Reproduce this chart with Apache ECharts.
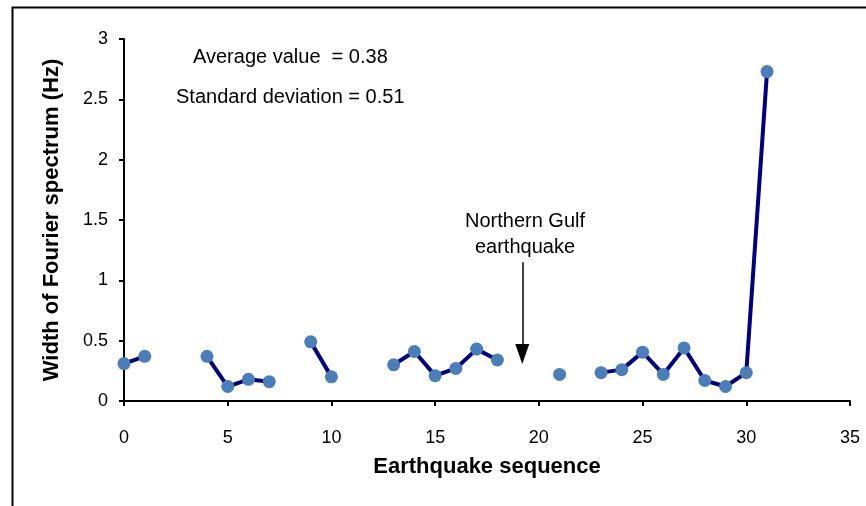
<!DOCTYPE html>
<html>
<head>
<meta charset="utf-8">
<script src="https://cdn.jsdelivr.net/npm/echarts@6/dist/echarts.min.js"></script>
<style>html,body{margin:0;padding:0;background:#fff;}#c{width:866px;height:506px;}</style>
</head>
<body>
<div id="c"></div>
<script>
var sequence = [0,1,2,3,4,5,6,7,8,9,10,11,12,13,14,15,16,17,18,19,20,21,22,23,24,25,26,27,28,29,30,31];
var widthHz = [0.31,0.37,null,null,0.37,0.12,0.18,0.16,null,0.49,0.20,null,null,0.30,0.41,0.21,0.27,0.43,0.34,null,null,0.22,null,0.235,0.26,0.405,0.22,0.44,0.17,0.12,0.235,2.73];
var xTicks = [0,5,10,15,20,25,30,35];
var yTicks = [0,0.5,1,1.5,2,2.5,3];
var arrowX = 19.2, arrowTop = 1.15, arrowTip = 0.39;

var pts = sequence.map(function(x,i){ return [x, widthHz[i]]; });
var font = '"Liberation Sans", Arial, sans-serif';
var chart = echarts.init(document.getElementById('c'));
chart.setOption({
  animation:false,
  backgroundColor:'#fff',
  grid:{left:124,right:16,top:39,bottom:105},
  xAxis:{type:'value',min:xTicks[0],max:xTicks[xTicks.length-1],interval:5,
    name:'Earthquake sequence',nameLocation:'middle',nameGap:55,
    nameTextStyle:{fontFamily:font,fontSize:22,fontWeight:'bold',color:'#000'},
    axisLine:{lineStyle:{color:'#000',width:2}},
    axisTick:{show:true,length:5,lineStyle:{color:'#000',width:2}},
    axisLabel:{margin:28,fontFamily:font,fontSize:18,color:'#000'},
    splitLine:{show:false}},
  yAxis:{type:'value',min:yTicks[0],max:yTicks[yTicks.length-1],interval:0.5,
    name:'Width of Fourier spectrum (Hz)',nameLocation:'middle',nameGap:61,
    nameTextStyle:{fontFamily:font,fontSize:22,fontWeight:'bold',color:'#000'},
    axisLine:{show:true,lineStyle:{color:'#000',width:2}},
    axisTick:{show:true,length:5,lineStyle:{color:'#000',width:2}},
    axisLabel:{margin:16,fontFamily:font,fontSize:18,color:'#000'},
    splitLine:{show:false}},
  graphic:[
    {type:'rect',left:10,top:5,shape:{width:900,height:600},style:{fill:'none',stroke:'#000',lineWidth:2},silent:true},
    {type:'text',left:193,top:47,style:{text:'Average value  = 0.38',font:'20px '+font,fill:'#000'}},
    {type:'text',left:176,top:87,style:{text:'Standard deviation = 0.51',font:'20px '+font,fill:'#000'}},
    {type:'text',x:525,y:208,style:{text:'Northern Gulf\nearthquake',font:'20px '+font,fill:'#000',align:'center',lineHeight:26}}
  ],
  series:[{
    type:'line',data:pts,connectNulls:false,
    symbol:'circle',symbolSize:13,showSymbol:true,
    lineStyle:{color:'#000080',width:4},
    itemStyle:{color:'#4a7ebb'},
    z:3,
    markLine:{silent:true,symbol:['none','triangle'],symbolSize:[14,20],
      lineStyle:{color:'#000',width:1.5,type:'solid'},label:{show:false},
      data:[[{coord:[arrowX,arrowTop]},{coord:[arrowX,arrowTip]}]]}
  }]
});
</script>
</body>
</html>
